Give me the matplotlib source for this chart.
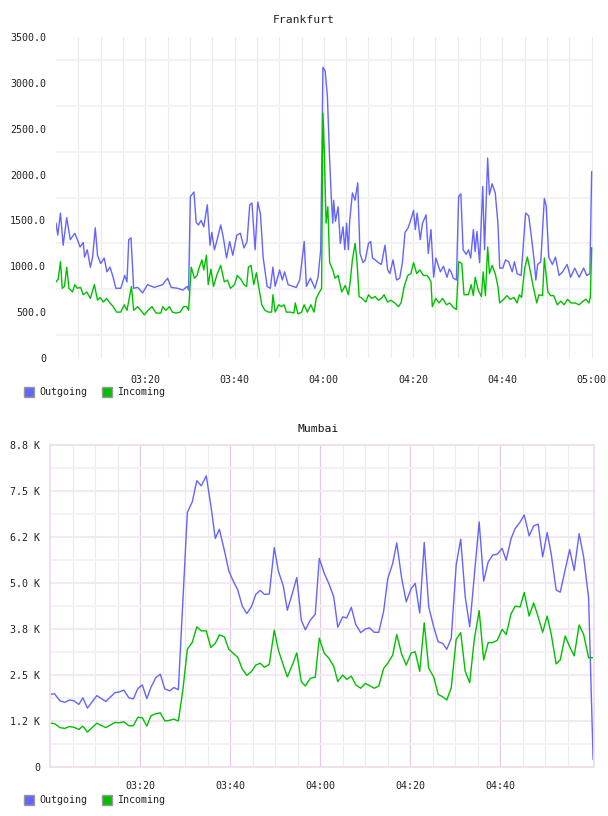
import matplotlib
matplotlib.use('Agg')
import matplotlib.pyplot as plt
from matplotlib.patches import Rectangle

# minutes after 03:00 and traffic values
fra_out_t = [0, 0.4, 1.0, 1.6, 2.4, 3.2, 4.2, 4.8, 5.4, 6.1, 6.4, 7.0, 7.7, 8.2, 8.8, 9.3, 10.0, 10.8, 11.4, 12.1,
             12.8, 13.4, 14.5, 15.4, 15.9, 16.3, 16.8, 17.4, 18.3, 19.4, 20.5, 22.0, 23.9, 25.0, 25.8, 27.3, 28.4, 29.4, 29.7, 30.1,
             30.9, 31.4, 31.9, 32.5, 33.1, 33.9, 34.5, 34.9, 35.5, 36.1, 36.9, 37.5, 38.2, 38.9, 39.6, 40.5, 41.3, 42.1, 42.8, 43.4,
             43.9, 44.6, 45.2, 45.8, 46.4, 47.3, 48.0, 48.6, 49.1, 50.1, 50.7, 51.2, 52.0, 53.1, 53.8, 54.6, 55.6, 56.1, 57.0, 58.0,
             58.7, 59.3, 59.8, 60.3, 60.8, 61.3, 61.7, 62.0, 62.2, 62.6, 63.2, 63.7, 64.3, 64.7, 65.1, 65.5, 65.8, 66.4, 67.0, 67.6,
             68.1, 68.8, 69.3, 70.0, 70.5, 70.9, 71.5, 72.2, 72.9, 73.7, 74.3, 74.8, 75.5, 76.3, 77.0, 77.6, 78.2, 78.9, 79.7, 80.1,
             80.5, 80.9, 81.6, 82.1, 82.9, 83.4, 84.0, 84.6, 85.1, 86.1, 86.8, 87.6, 88.1, 88.5, 89.0, 89.7, 90.2, 90.7, 91.2, 91.9,
             92.4, 92.9, 93.5, 93.9, 94.3, 94.9, 95.6, 96.0, 96.7, 97.1, 97.7, 98.4, 99.0, 99.4, 100.1, 100.7, 101.4, 102.2, 102.7, 103.3,
             104.2, 105.2, 105.9, 106.5, 107.1, 107.5, 107.9, 108.6, 109.4, 109.8, 110.4, 111.2, 111.9, 112.7, 113.5, 114.5, 115.3, 116.2, 117.2, 118.2,
             118.9, 119.6, 120.0]
fra_out = [1470, 1340, 1580, 1230, 1530, 1290, 1360, 1290, 1210, 1260, 1100, 1180, 990, 1100, 1420, 1120, 1030, 1090, 940, 990,
           880, 760, 760, 900, 830, 1290, 1310, 760, 770, 710, 800, 770, 800, 870, 770, 760, 740, 780, 740, 1760,
           1810, 1480, 1450, 1500, 1430, 1670, 1230, 1370, 1180, 1290, 1450, 1310, 1090, 1270, 1120, 1340, 1360, 1200, 1270, 1670,
           1690, 1180, 1700, 1570, 1100, 780, 760, 990, 780, 960, 850, 940, 800, 780, 770, 850, 1270, 780, 870, 760,
           880, 1180, 3170, 3130, 2850, 2160, 1720, 1470, 1720, 1490, 1650, 1250, 1430, 1180, 1470, 1180, 1500, 1800, 1720, 1910,
           1140, 1040, 1070, 1250, 1270, 1090, 1070, 1040, 1020, 1230, 960, 920, 1070, 850, 870, 1040, 1370, 1420, 1540, 1610,
           1400, 1580, 1290, 1470, 1560, 1140, 1400, 880, 1090, 940, 1000, 880, 970, 940, 870, 850, 1760, 1790, 1180, 1130,
           1180, 1090, 1400, 1160, 1380, 1040, 1870, 1180, 2180, 1780, 1900, 1800, 1470, 980, 980, 1070, 1050, 940, 1050, 920,
           900, 1580, 1550, 1320, 1070, 850, 1020, 1050, 1740, 1660, 1100, 1020, 1100, 900, 940, 1020, 880, 980, 880, 980,
           900, 920, 2030]

fra_in_t = [0, 0.5, 1.0, 1.4, 1.9, 2.4, 2.9, 3.7, 4.2, 4.8, 5.5, 6.1, 6.9, 7.7, 8.6, 9.3, 9.9, 10.6, 11.3, 12.1,
            12.8, 13.6, 14.5, 15.3, 15.9, 16.9, 17.4, 18.3, 19.0, 19.8, 20.6, 21.5, 22.4, 23.5, 23.9, 24.6, 25.4, 26.1, 26.9, 27.8,
            28.6, 29.3, 29.7, 30.3, 31.0, 31.6, 32.1, 32.7, 33.1, 33.7, 34.1, 34.7, 35.3, 36.0, 36.9, 37.7, 38.4, 39.1, 40.0, 40.6,
            41.4, 42.1, 42.7, 43.1, 43.7, 44.3, 44.9, 45.4, 46.1, 46.8, 47.6, 48.3, 48.6, 49.1, 49.9, 50.5, 51.1, 51.6, 52.6, 53.3,
            53.6, 54.2, 55.0, 55.6, 56.3, 57.1, 57.8, 58.3, 58.7, 59.5, 59.8, 60.1, 60.5, 60.9, 61.3, 62.0, 62.5, 63.2, 64.0, 64.8,
            65.5, 65.9, 66.4, 67.0, 67.4, 67.9, 68.6, 69.4, 70.0, 70.7, 71.5, 72.2, 72.9, 73.5, 74.3, 75.0, 75.9, 76.7, 77.3, 78.0,
            78.8, 79.5, 80.1, 80.8, 81.5, 82.3, 83.1, 83.6, 84.0, 84.3, 85.1, 85.8, 86.6, 87.5, 88.2, 89.0, 89.7, 90.2, 90.9, 91.4,
            92.4, 93.0, 93.5, 93.9, 94.6, 95.3, 95.7, 96.2, 96.7, 97.1, 97.7, 98.4, 99.0, 99.4, 100.3, 101.0, 101.8, 102.6, 103.3, 103.8,
            104.3, 105.0, 105.6, 106.2, 106.9, 107.7, 108.2, 109.0, 109.4, 110.2, 110.8, 111.5, 112.3, 113.1, 113.8, 114.6, 115.4, 116.3, 117.2, 118.1,
            118.7, 119.4, 119.7, 120.0]
fra_in = [830, 860, 1050, 760, 780, 990, 760, 720, 800, 760, 770, 690, 720, 650, 800, 630, 660, 610, 650, 600,
          560, 500, 500, 580, 520, 780, 520, 560, 520, 470, 520, 560, 490, 490, 560, 520, 560, 500, 490, 500,
          560, 560, 520, 990, 870, 900, 990, 1070, 960, 1120, 800, 970, 780, 900, 1010, 830, 850, 760, 800, 900,
          860, 800, 780, 990, 1010, 800, 930, 780, 580, 520, 500, 500, 690, 500, 580, 560, 580, 500, 500, 490,
          600, 480, 500, 580, 500, 580, 500, 650, 690, 760, 2670, 2270, 1470, 1650, 1040, 960, 870, 900, 720, 790,
          690, 830, 1070, 1250, 1070, 670, 650, 610, 690, 650, 670, 630, 650, 690, 610, 630, 600, 560, 600, 780,
          900, 920, 1040, 920, 960, 900, 900, 870, 830, 560, 650, 600, 650, 580, 600, 550, 530, 1050, 1030, 690,
          690, 800, 680, 880, 740, 670, 940, 680, 1210, 920, 1010, 920, 780, 600, 640, 680, 640, 660, 600, 690,
          660, 980, 1100, 960, 780, 600, 690, 680, 1090, 720, 680, 680, 580, 620, 580, 640, 600, 600, 580, 620,
          640, 600, 660, 1200]

mum_t = [0.1, 1, 2.2, 3.3, 4.3, 5.3, 6.4, 7.3, 8.3, 10.4, 12.4, 14.4, 15.4, 16.4, 17.5, 18.5, 19.5, 20.5, 21.5, 22.4,
         23.5, 24.5, 25.5, 26.6, 27.5, 28.5, 29.5, 30.5, 31.6, 32.6, 33.6, 34.7, 35.7, 36.7, 37.6, 38.7, 39.7, 40.7, 41.7, 42.7,
         43.7, 44.7, 45.7, 46.7, 47.6, 48.7, 49.8, 50.7, 51.8, 52.7, 53.8, 54.8, 55.8, 56.7, 57.8, 58.9, 59.8, 60.9, 61.9, 63.0,
         63.9, 65.0, 65.9, 66.9, 67.9, 69.0, 70.0, 71.0, 72.0, 73.0, 74.1, 75.0, 76.1, 77.0, 78.1, 79.1, 80.2, 81.1, 82.1, 83.1,
         84.1, 85.2, 86.2, 87.2, 88.1, 89.1, 90.2, 91.2, 92.2, 93.2, 94.2, 95.3, 96.3, 97.3, 98.3, 99.3, 100.4, 101.3, 102.4, 103.3,
         104.4, 105.3, 106.4, 107.4, 108.4, 109.4, 110.4, 111.3, 112.4, 113.3, 114.4, 115.4, 116.4, 117.5, 118.5, 119.6, 120.6]
mum_out = [1975, 1990, 1800, 1757, 1820, 1800, 1700, 1880, 1600, 1940, 1780, 2020, 2040, 2090, 1880, 1850, 2130, 2230, 1860, 2160,
           2430, 2520, 2120, 2070, 2160, 2100, 4500, 6920, 7210, 7780, 7640, 7910, 7120, 6210, 6460, 5900, 5330, 5050, 4810, 4370,
           4170, 4350, 4690, 4800, 4690, 4700, 5960, 5330, 4920, 4260, 4710, 5150, 3990, 3730, 3990, 4150, 5670, 5260, 4990, 4630,
           3800, 4080, 4050, 4340, 3870, 3650, 3750, 3780, 3660, 3660, 4240, 5120, 5530, 6090, 5120, 4490, 4850, 4990, 4180, 6100,
           4350, 3810, 3400, 3360, 3200, 3500, 5490, 6190, 4630, 3810, 5170, 6660, 5050, 5570, 5760, 5780, 5940, 5620, 6210, 6480,
           6660, 6850, 6280, 6550, 6600, 5710, 6370, 5790, 4810, 4750, 5360, 5910, 5340, 6340, 5710, 4600, 210]
mum_in = [1190, 1180, 1070, 1050, 1100, 1080, 1020, 1110, 950, 1190, 1070, 1210, 1200, 1230, 1120, 1120, 1350, 1340, 1110, 1390,
          1450, 1470, 1250, 1270, 1300, 1250, 2090, 3200, 3390, 3810, 3700, 3700, 3250, 3360, 3590, 3540, 3200, 3090, 2980, 2660,
          2490, 2590, 2770, 2820, 2710, 2790, 3720, 3180, 2770, 2450, 2770, 3100, 2320, 2200, 2410, 2440, 3500, 3090, 2960, 2740,
          2320, 2500, 2380, 2470, 2230, 2140, 2270, 2210, 2140, 2200, 2680, 2820, 3040, 3600, 3060, 2770, 3100, 3130, 2600, 3920,
          2680, 2450, 1970, 1910, 1820, 2150, 3470, 3650, 2600, 2290, 3450, 4250, 2910, 3380, 3380, 3440, 3740, 3600, 4170, 4370,
          4350, 4740, 4100, 4460, 4080, 3660, 4100, 3610, 2800, 2910, 3560, 3270, 3020, 3860, 3600, 2970, 2970]

legend_labels = ['Outgoing', 'Incoming']
out_color = '#6464ff'
in_color = '#00c000'
mono = 'DejaVu Sans Mono'


def hhmm(m):
    return '%02d:%02d' % (3 + m // 60, m % 60)


fig = plt.figure(figsize=(6.08, 8.16), dpi=100)

# ---- Frankfurt ----
ax1 = fig.add_axes([56 / 608, 1 - 358 / 816, 537 / 608, 321 / 816])
ax1.set_xlim(0, 120.3)
ax1.set_ylim(0, 3500)
for m in range(5, 121, 5):
    ax1.axvline(m, color='#ebebeb', lw=0.8, zorder=0)
for v in range(250, 3500, 500):
    ax1.axhline(v, color='#f2f2f2', lw=1.4, zorder=0)
ax1.plot(fra_out_t, fra_out, color=out_color, lw=1.0)
ax1.plot(fra_in_t, fra_in, color=in_color, lw=1.0)
ax1.set_yticks(range(0, 3501, 500))
ax1.set_yticklabels(['0'] + ['%.1f' % v for v in range(500, 3501, 500)])
ax1.set_xticks(range(20, 121, 20))
ax1.set_xticklabels([hhmm(m) for m in range(20, 121, 20)])
for s in ax1.spines.values():
    s.set_visible(False)
ax1.tick_params(length=0, labelsize=7.2, colors='#222222', pad=7)
ax1.tick_params(axis='x', pad=12)
for lab in ax1.get_xticklabels() + ax1.get_yticklabels():
    lab.set_family(mono)
fig.text(304 / 608, 1 - 20 / 816, 'Frankfurt', ha='center', va='center',
         family=mono, fontsize=8.2, color='#222222')

# ---- Mumbai ----
pink = '#efe0ef'
ax2 = fig.add_axes([50 / 608, 1 - 767 / 816, 544 / 608, 322 / 816])
ax2.set_xlim(0, 120.8)
ax2.set_ylim(0, 8750)
for m in range(5, 120, 5):
    if m % 20 == 0:
        ax2.axvline(m, color='#e2cce2', lw=0.9, zorder=0)
    else:
        ax2.axvline(m, color='#ebebeb', lw=0.8, zorder=0)
for v in range(625, 8750, 1250):
    ax2.axhline(v, color='#f2f2f2', lw=1.4, zorder=0)
for v in range(1250, 8750, 1250):
    ax2.axhline(v, color='#f3e8f3', lw=1.4, zorder=0)
ax2.plot(mum_t, mum_out, color=out_color, lw=1.0)
ax2.plot(mum_t, mum_in, color=in_color, lw=1.0)
ax2.set_yticks(range(0, 8751, 1250))
ax2.set_yticklabels(['0'] + ['%.1f K' % (v / 1000) for v in range(1250, 8751, 1250)])
ax2.set_xticks(range(20, 101, 20))
ax2.set_xticklabels([hhmm(m) for m in range(20, 101, 20)])
for s in ax2.spines.values():
    s.set_color(pink)
    s.set_linewidth(1.4)
ax2.tick_params(length=0, labelsize=7.2, colors='#222222', pad=7)
ax2.tick_params(axis='x', pad=10)
for lab in ax2.get_xticklabels() + ax2.get_yticklabels():
    lab.set_family(mono)
fig.text(318 / 608, 1 - 429 / 816, 'Mumbai', ha='center', va='center',
         family=mono, fontsize=8.2, color='#111111')

# ---- legends ----
for ly in [392, 800]:
    for i, (lab, col) in enumerate(zip(legend_labels, [out_color, in_color])):
        x0 = 24 + i * 78
        fig.patches.append(Rectangle((x0 / 608, 1 - (ly + 5) / 816), 10 / 608, 10 / 816,
                                     transform=fig.transFigure, facecolor=col,
                                     edgecolor='#999999', lw=1.0))
        fig.text((x0 + 15) / 608, 1 - ly / 816, lab, ha='left', va='center',
                 family=mono, fontsize=7.2, color='#222222')

fig.savefig('out.png', dpi=100, facecolor='white')
